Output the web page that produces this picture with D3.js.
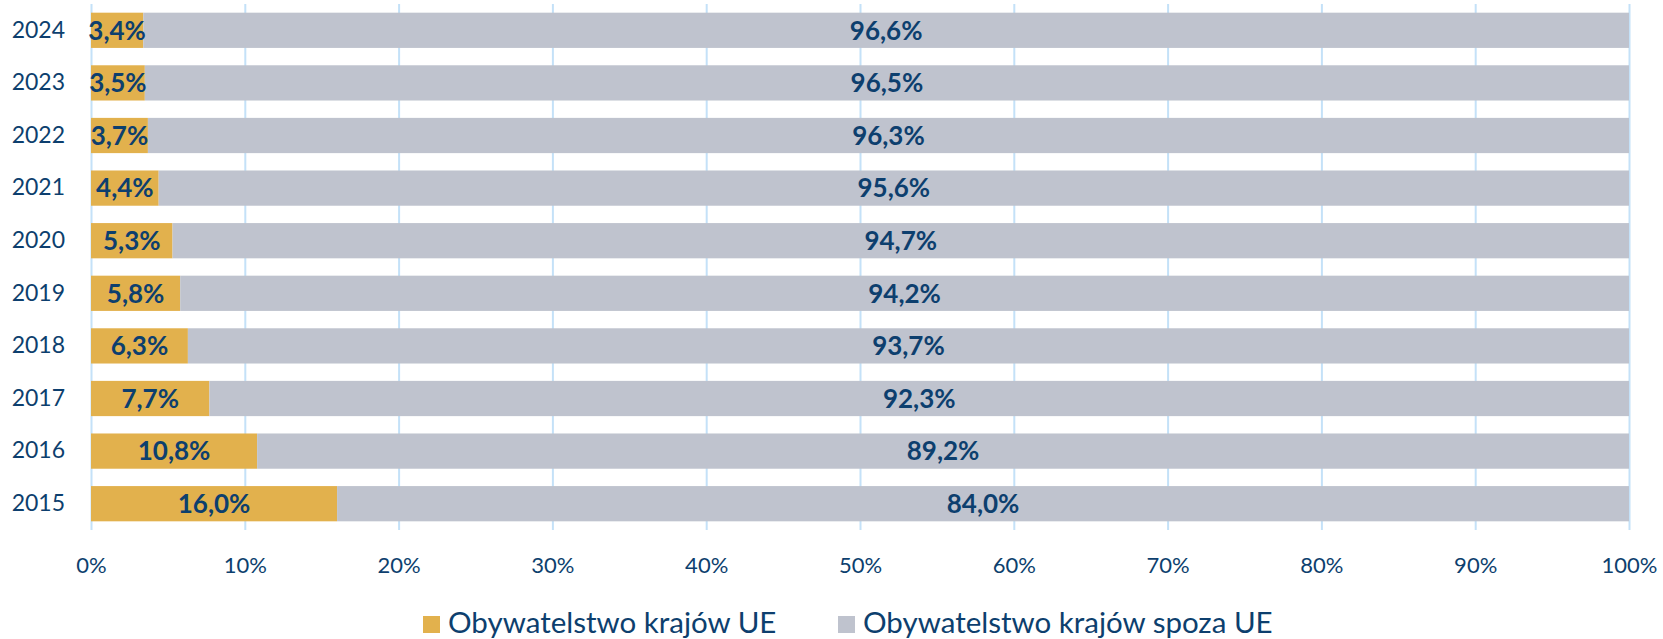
<!DOCTYPE html>
<html>
<head>
<meta charset="utf-8">
<script src="https://cdn.jsdelivr.net/npm/d3@7"></script>
<style>
  html, body { margin: 0; padding: 0; background: #fff; }
  svg { display: block; }
</style>
</head>
<body>
<svg id="chart" width="1663" height="639"></svg>
<script>
const years = ["2024","2023","2022","2021","2020","2019","2018","2017","2016","2015"];
const ueValues = [3.4, 3.5, 3.7, 4.4, 5.3, 5.8, 6.3, 7.7, 10.8, 16.0];
const nonUeValues = [96.6, 96.5, 96.3, 95.6, 94.7, 94.2, 93.7, 92.3, 89.2, 84.0];
const seriesNames = ["Obywatelstwo krajów UE", "Obywatelstwo krajów spoza UE"];
const xTicks = [0, 10, 20, 30, 40, 50, 60, 70, 80, 90, 100];

(function () {
const colors = ["#E2B14D", "#BFC3CE"];
const textColor = "#0D3F6E";
const gridColor = "#C4E1F8";
const font = "Lato, 'Open Sans', sans-serif";

const svg = d3.select("#chart");
const pLeft = 91, pRight = 1629, pTop = 4, pBottom = 530;

const x = d3.scaleLinear().domain([0, 100]).range([pLeft, pRight]);
const y = d3.scaleBand().domain(years).range([pTop, pBottom]).paddingInner(0.33).paddingOuter(0.165);

// gridlines
const grid = svg.append("g").attr("transform", `translate(0,${pBottom})`)
  .call(d3.axisBottom(x).tickValues(xTicks).tickSize(-(pBottom - pTop)).tickFormat(""));
grid.select(".domain").remove();
grid.selectAll("line").attr("stroke", gridColor).attr("stroke-width", 2);

// x axis labels
const xAxis = svg.append("g").attr("transform", `translate(0,${pBottom})`)
  .call(d3.axisBottom(x).tickValues(xTicks).tickSize(0).tickPadding(27).tickFormat(d => d + "%"));
xAxis.select(".domain").remove();
xAxis.selectAll("text").attr("fill", textColor).style("font-family", font).style("font-size", "22px");

// y axis labels
const yAxis = svg.append("g").attr("transform", `translate(${pLeft},0)`)
  .call(d3.axisLeft(y).tickSize(0).tickPadding(26));
yAxis.select(".domain").remove();
yAxis.selectAll("text").attr("fill", textColor).style("font-family", font).style("font-size", "23px");

// stacked data
const rows = years.map((yr, i) => ({ year: yr, ue: ueValues[i], non: nonUeValues[i] }));
const stack = d3.stack().keys(["ue", "non"])(rows);

const fmt = v => v.toFixed(1).replace(".", ",") + "%";

stack.forEach((layer, li) => {
  svg.append("g").selectAll("rect").data(layer).join("rect")
    .attr("x", d => x(d[0]))
    .attr("y", d => y(d.data.year))
    .attr("width", d => x(d[1]) - x(d[0]))
    .attr("height", y.bandwidth())
    .attr("fill", colors[li]);
});

stack.forEach((layer, li) => {
  svg.append("g").selectAll("text").data(layer).join("text")
    .attr("x", d => (x(d[0]) + x(d[1])) / 2)
    .attr("y", d => y(d.data.year) + y.bandwidth() / 2)
    .attr("dy", "0.36em")
    .attr("text-anchor", "middle")
    .attr("fill", textColor)
    .style("font-family", font)
    .style("font-weight", "bold")
    .style("font-size", "26px")
    .text(d => fmt(d[1] - d[0]));
});

// legend
const legendX = [423, 838];
const legend = svg.append("g");
seriesNames.forEach((name, i) => {
  legend.append("rect").attr("x", legendX[i]).attr("y", 616).attr("width", 17).attr("height", 17).attr("fill", colors[i]);
  legend.append("text").attr("x", legendX[i] + 25).attr("y", 633)
    .attr("fill", textColor).style("font-family", font).style("font-size", "29.5px")
    .text(name);
});
})();
</script>
</body>
</html>
